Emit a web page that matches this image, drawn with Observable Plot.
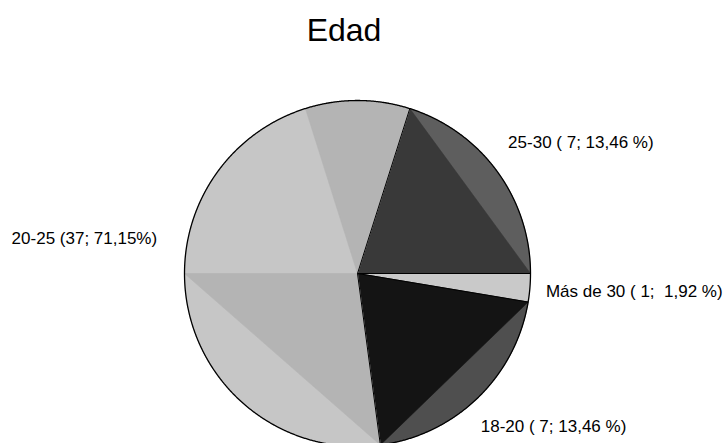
<!DOCTYPE html>
<html><head><meta charset="utf-8">
<script src="https://cdn.jsdelivr.net/npm/d3@7"></script>
<script src="https://cdn.jsdelivr.net/npm/@observablehq/plot@0.6"></script>
<style>
html,body{margin:0;padding:0;background:#fff;}
svg text{white-space:pre;}
</style></head><body><div id="chart"></div>
<script>
// ---- data ----
const title = "Edad";
const groups = ["25-30", "Más de 30", "18-20", "20-25"];
const counts = [7, 1, 7, 37];
const percents = ["13,46", "1,92", "13,46", "71,15"];
const labels = ["25-30 ( 7; 13,46 %)", "Más de 30 ( 1;  1,92 %)", "18-20 ( 7; 13,46 %)", "20-25 (37; 71,15%)"];
// angular extent (degrees) each wedge occupies in the reference picture
const wedgeDegrees = [72.4, 9.5, 72.9, 205.2];

// ---- styling / layout ----
const startDegree = 17.6;
const coreColor = ["#393939", "#c9c9c9", "#141414", "#c6c6c6"];
const rimColor  = ["#5e5e5e", "#c9c9c9", "#4f4f4f", "#c6c6c6"];
const labelOffset = [[11, -29, "start"], [16, 4, "start"], [3, 29, "start"], [-28, -19.5, "end"]];
const cx = 357, cy = 273, r = 173;

const rad = d => d * Math.PI / 180;
const pt = (deg, rr = 1) => ({x: rr * Math.sin(rad(deg)), y: rr * Math.cos(rad(deg))});
const center = pt(0, 0);
const arcPoly = (a0, a1) => [center, ...d3.range(a0, a1, 0.25).map(d => pt(d)), pt(a1), center];
const triPoly = (a0, a1) => [center, pt(a0), pt(a1), center];

const ends = Array.from(d3.cumsum(wedgeDegrees), c => startDegree + c);
const starts = ends.map((e, i) => e - wedgeDegrees[i]);

const marks = [];
groups.forEach((g, i) => {
  const poly = arcPoly(starts[i], ends[i]);
  marks.push(Plot.line(poly, {x: "x", y: "y", fill: rimColor[i], stroke: rimColor[i], strokeWidth: 0.6}));
  if (wedgeDegrees[i] < 180 && coreColor[i] !== rimColor[i]) {
    marks.push(Plot.line(triPoly(starts[i], ends[i]), {x: "x", y: "y", fill: coreColor[i], stroke: coreColor[i], strokeWidth: 0.6}));
  }
});
// facet shading of the large wedge, as drawn in the reference
const big = 3;
marks.push(Plot.line(triPoly(starts[big], 270), {x: "x", y: "y", fill: "#b4b4b4", stroke: "#b4b4b4", strokeWidth: 0.6}));
marks.push(Plot.line(arcPoly(342.5, ends[big]), {x: "x", y: "y", fill: "#b4b4b4", stroke: "#b4b4b4", strokeWidth: 0.6}));

// boundaries
const bounds = starts.map(a => { const p = pt(a); return {x1: center.x, y1: center.y, x2: p.x, y2: p.y}; });
marks.push(Plot.link(bounds, {x1: "x1", y1: "y1", x2: "x2", y2: "y2", stroke: "#000", strokeWidth: 1}));
// outline
marks.push(Plot.line(d3.range(0, 360.25, 0.25).map(d => pt(d)), {x: "x", y: "y", stroke: "#000", strokeWidth: 1.3}));

// labels
groups.forEach((g, i) => {
  const a = pt(starts[i] + wedgeDegrees[i] / 2);
  const [dx, dy, anchor] = labelOffset[i];
  marks.push(Plot.text([{x: a.x, y: a.y, t: labels[i]}], {x: "x", y: "y", text: "t", dx, dy, textAnchor: anchor, fontSize: 17, fill: "#000"}));
});
// title
marks.push(Plot.text([title], {frameAnchor: "top", lineAnchor: "top", dx: -19.5, dy: 18, fontSize: 32, fill: "#000"}));

const chart = Plot.plot({
  width: 726, height: 443,
  marginTop: 0, marginRight: 0, marginBottom: 0, marginLeft: 0,
  x: {domain: [-1, 1], range: [cx - r, cx + r], axis: null},
  y: {domain: [-1, 1], range: [cy + r, cy - r], axis: null},
  style: {fontFamily: "'Liberation Sans', Arial, sans-serif", background: "#fff", overflow: "hidden"},
  marks
});
document.getElementById("chart").appendChild(chart);
</script></body></html>
